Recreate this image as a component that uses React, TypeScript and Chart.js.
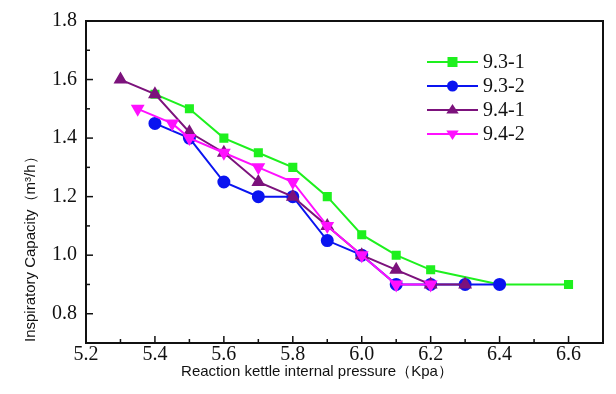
import React, { useEffect, useRef } from "react";
import { Chart, registerables } from "chart.js";

Chart.register(...registerables);

const seriesNames = ["9.3-1", "9.3-2", "9.4-1", "9.4-2"];
const colors = ["#1ef01e", "#0a14f0", "#7c127c", "#ff10ff"];

const x93_1 = [5.4, 5.5, 5.6, 5.7, 5.8, 5.9, 6.0, 6.1, 6.2, 6.4, 6.6];
const y93_1 = [1.55, 1.5, 1.4, 1.35, 1.3, 1.2, 1.07, 1.0, 0.95, 0.9, 0.9];

const x93_2 = [5.4, 5.5, 5.6, 5.7, 5.8, 5.9, 6.0, 6.1, 6.2, 6.3, 6.4];
const y93_2 = [1.45, 1.4, 1.25, 1.2, 1.2, 1.05, 1.0, 0.9, 0.9, 0.9, 0.9];

const x94_1 = [5.3, 5.4, 5.5, 5.6, 5.7, 5.8, 5.9, 6.0, 6.1, 6.2, 6.3];
const y94_1 = [1.6, 1.55, 1.42, 1.35, 1.25, 1.2, 1.1, 1.0, 0.95, 0.9, 0.9];

const x94_2 = [5.35, 5.45, 5.5, 5.6, 5.7, 5.8, 5.9, 6.0, 6.1, 6.2];
const y94_2 = [1.5, 1.45, 1.4, 1.35, 1.3, 1.25, 1.1, 1.0, 0.9, 0.9];

const xTicks = [5.2, 5.4, 5.6, 5.8, 6.0, 6.2, 6.4, 6.6];
const xMinorTicks = [5.3, 5.5, 5.7, 5.9, 6.1, 6.3, 6.5];
const yTicks = [0.8, 1.0, 1.2, 1.4, 1.6, 1.8];
const yMinorTicks = [0.7, 0.9, 1.1, 1.3, 1.5, 1.7];

const xTitle = "Reaction kettle internal pressure（Kpa）";
const yTitle = "Inspiratory Capacity（m³/h）";

const pointStyles: any[] = ["rect", "circle", "triangle", "triangle"];
const pointRotations = [0, 0, 0, 180];
const pointRadii = [5, 5.5, 6, 6];

const SERIF = "'Liberation Serif', 'DejaVu Serif', serif";
const SANS = "'Liberation Sans', Arial, sans-serif";

const frameAndTicks = {
  id: "frameAndTicks",
  afterDraw(chart: any) {
    const { ctx, chartArea: a, scales } = chart;
    const xs = scales.x;
    const ys = scales.y;
    ctx.save();
    ctx.strokeStyle = "#111";
    ctx.lineWidth = 2;
    ctx.strokeRect(a.left, a.top, a.right - a.left, a.bottom - a.top);
    ctx.lineWidth = 1.5;
    const tick = (vals: number[], len: number) => {
      vals.forEach((v) => {
        const px = xs.getPixelForValue(v);
        ctx.beginPath();
        ctx.moveTo(px, a.bottom);
        ctx.lineTo(px, a.bottom - len);
        ctx.stroke();
      });
    };
    tick(xTicks, 7);
    tick(xMinorTicks, 4);
    const ytick = (vals: number[], len: number) => {
      vals.forEach((v) => {
        const py = ys.getPixelForValue(v);
        ctx.beginPath();
        ctx.moveTo(a.left, py);
        ctx.lineTo(a.left + len, py);
        ctx.stroke();
      });
    };
    ytick(yTicks, 7);
    ytick(yMinorTicks, 4);

    // axis titles
    ctx.fillStyle = "#111";
    ctx.font = `15px ${SANS}`;
    ctx.textAlign = "center";
    ctx.textBaseline = "middle";
    ctx.fillText(xTitle, 317, 372);
    ctx.save();
    ctx.translate(31, 342);
    ctx.rotate(-Math.PI / 2);
    ctx.textAlign = "left";
    ctx.fillText(yTitle, 0, 0);
    ctx.restore();

    // legend
    const lx0 = 427;
    const lx1 = 478;
    const rows = [62, 86, 110, 134];
    chart.data.datasets.forEach((ds: any, i: number) => {
      const y = rows[i];
      ctx.strokeStyle = ds.borderColor;
      ctx.lineWidth = 2;
      ctx.beginPath();
      ctx.moveTo(lx0, y);
      ctx.lineTo(lx1, y);
      ctx.stroke();
      ctx.fillStyle = ds.borderColor;
      ctx.save();
      ctx.translate((lx0 + lx1) / 2, y);
      const s = ds.pointStyle;
      const r = ds.pointRadius;
      ctx.beginPath();
      if (s === "rect") {
        ctx.rect(-r, -r, 2 * r, 2 * r);
      } else if (s === "circle") {
        ctx.arc(0, 0, r, 0, Math.PI * 2);
      } else {
        const dir = ds.pointRotation === 180 ? -1 : 1;
        ctx.moveTo(0, -dir * r);
        ctx.lineTo(r * 0.866 + 1, dir * r * 0.6);
        ctx.lineTo(-r * 0.866 - 1, dir * r * 0.6);
        ctx.closePath();
      }
      ctx.fill();
      ctx.restore();
      ctx.fillStyle = "#111";
      ctx.font = `20px ${SERIF}`;
      ctx.textAlign = "left";
      ctx.textBaseline = "middle";
      ctx.fillText(seriesNames[i], 483, y + 1);
    });
    ctx.restore();
  },
};

export default function App() {
  const ref = useRef<HTMLCanvasElement | null>(null);
  useEffect(() => {
    document.body.style.margin = "0";
    const xsArr = [x93_1, x93_2, x94_1, x94_2];
    const ysArr = [y93_1, y93_2, y94_1, y94_2];
    const orders = [4, 3, 2, 1];
    const datasets = seriesNames.map((name, i) => ({
      label: name,
      data: xsArr[i].map((x, j) => ({ x, y: ysArr[i][j] })),
      borderColor: colors[i],
      backgroundColor: colors[i],
      pointBackgroundColor: colors[i],
      pointBorderColor: colors[i],
      pointStyle: pointStyles[i],
      pointRotation: pointRotations[i],
      pointRadius: pointRadii[i],
      borderWidth: 2,
      showLine: true,
      tension: 0,
      order: orders[i],
    }));
    const chart = new Chart(ref.current as HTMLCanvasElement, {
      type: "scatter",
      data: { datasets },
      options: {
        animation: false,
        responsive: false,
        layout: { padding: { top: 14, right: 13, left: 0, bottom: 0 } },
        plugins: { legend: { display: false }, tooltip: { enabled: false } },
        scales: {
          x: {
            type: "linear",
            min: 5.2,
            max: 6.7,
            grid: { display: false, drawTicks: false },
            border: { display: false },
            afterBuildTicks: (s: any) => {
              s.ticks = xTicks.map((v) => ({ value: v }));
            },
            afterFit: (s: any) => {
              s.height = 51;
            },
            ticks: {
              color: "#111",
              font: { family: SERIF, size: 20 },
              padding: 0,
              maxRotation: 0,
              autoSkip: false,
              callback: (v: any) => Number(v).toFixed(1),
            },
          },
          y: {
            type: "linear",
            min: 0.7,
            max: 1.8,
            grid: { display: false, drawTicks: false },
            border: { display: false },
            afterBuildTicks: (s: any) => {
              s.ticks = yTicks.map((v) => ({ value: v }));
            },
            afterFit: (s: any) => {
              s.width = 86;
            },
            ticks: {
              color: "#111",
              font: { family: SERIF, size: 20 },
              padding: 9,
              autoSkip: false,
              callback: (v: any) => Number(v).toFixed(1),
            },
          },
        },
      },
      plugins: [frameAndTicks],
    });
    return () => chart.destroy();
  }, []);
  return (
    <div style={{ position: "absolute", left: 0, top: 0, width: 616, height: 394, background: "#fff" }}>
      <canvas ref={ref} width={616} height={394} />
    </div>
  );
}
